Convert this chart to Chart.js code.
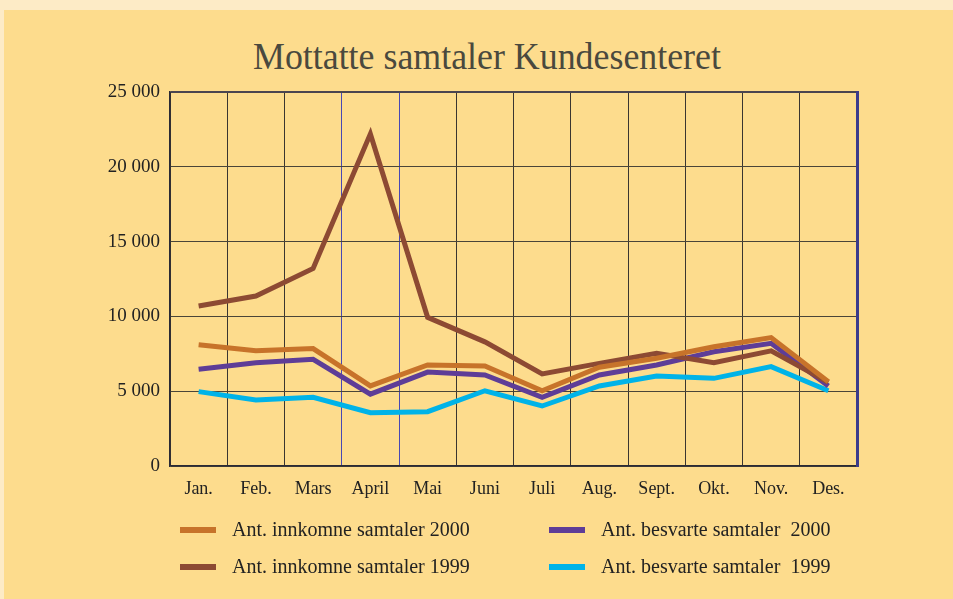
<!DOCTYPE html>
<html>
<head>
<meta charset="utf-8">
<script src="https://cdn.jsdelivr.net/npm/chart.js@4.4.0/dist/chart.umd.min.js"></script>
<style>
    body { margin: 0; background: #fdebc6; width: 953px; height: 599px; overflow: hidden; }
    #panel { position: absolute; left: 4px; top: 10px; width: 949px; height: 589px; background: #fddc8d; }
    #chartBox { position: absolute; left: 0; top: 0; width: 953px; height: 599px; }
    #title { position: absolute; left: 0; top: 34px; width: 973px; text-align: center;
             font-family: "Liberation Serif", serif; font-size: 38px; color: #4a493e; white-space: nowrap; }
    #title span { display: inline-block; transform-origin: center; }
    .leg { position: absolute; font-family: "Liberation Serif", serif; font-size: 20px; color: #222; white-space: pre; }
    .leg i { position: absolute; width: 36px; height: 6px; }
</style>
</head>
<body>
<div id="panel"></div>
<div id="title"><span>Mottatte samtaler Kundesenteret</span></div>
<div id="chartBox"><canvas id="lineChart" width="953" height="599"></canvas></div>
<div id="legend"></div>
<script>
// Data
const months = ['Jan.', 'Feb.', 'Mars', 'April', 'Mai', 'Juni', 'Juli', 'Aug.', 'Sept.', 'Okt.', 'Nov.', 'Des.'];
const innkomne2000 = [8100, 7700, 7850, 5350, 6750, 6680, 5030, 6600, 7200, 7970, 8580, 5630];
const innkomne1999 = [10700, 11360, 13200, 22200, 9940, 8300, 6150, 6860, 7530, 6900, 7700, 5600];
const besvarte2000 = [6460, 6900, 7130, 4800, 6280, 6080, 4590, 6080, 6750, 7640, 8200, 5350];
const besvarte1999 = [4970, 4410, 4590, 3560, 3630, 5030, 4010, 5350, 6020, 5860, 6640, 5030];
const yTicks = [0, 5000, 10000, 15000, 20000, 25000];

const seriesLabels = ['Ant. innkomne samtaler 2000', 'Ant. innkomne samtaler 1999',
                      'Ant. besvarte samtaler  2000', 'Ant. besvarte samtaler  1999'];
const seriesColors = ['#c7732a', '#8d4a33', '#5e3d97', '#00b3e8'];
const seriesData = [innkomne2000, innkomne1999, besvarte2000, besvarte1999];

// fit the title to the width it has in the picture
const titleSpan = document.querySelector('#title span');
titleSpan.style.transform = 'scaleX(' + (468 / titleSpan.offsetWidth) + ')';

// legend, two columns
const legendPos = [[180, 232, 530], [180, 232, 567], [549, 601, 530], [549, 601, 567]];
const legendBox = document.getElementById('legend');
seriesLabels.forEach((label, i) => {
    const [sx, tx, y] = legendPos[i];
    const mark = document.createElement('div');
    mark.className = 'leg';
    mark.style.left = sx + 'px';
    mark.style.top = (y - 3) + 'px';
    mark.innerHTML = '<i style="background:' + seriesColors[i] + '"></i>';
    legendBox.appendChild(mark);
    const text = document.createElement('div');
    text.className = 'leg';
    text.style.left = tx + 'px';
    text.style.top = (y - 12) + 'px';
    text.textContent = label;
    legendBox.appendChild(text);
});

function spaced(v) {
    return String(v).replace(/\B(?=(\d{3})+(?!\d))/g, ' ');
}

let ctx = document.getElementById('lineChart').getContext('2d');
let lineChart = new Chart(ctx, {
    type: 'line',
    data: {
        labels: months,
        datasets: seriesData.map((d, i) => ({
            label: seriesLabels[i],
            data: d,
            borderColor: seriesColors[i],
            backgroundColor: seriesColors[i],
            borderWidth: 5,
            pointRadius: 0,
            tension: 0,
            fill: false,
        })),
    },
    options: {
        responsive: false,
        animation: false,
        layout: {
            padding: { left: 0, top: 92, right: 96, bottom: 93 },
        },
        plugins: {
            legend: { display: false },
            tooltip: { enabled: false },
        },
        scales: {
            x: {
                offset: true,
                grid: {
                    offset: true,
                    // the two lines around April are blue in the original
                    color: (c) => (c.index === 3 || c.index === 4) ? '#4848b4' : '#3a3530',
                    lineWidth: 1,
                    drawTicks: false,
                },
                border: { color: '#2a2a35', width: 1.5 },
                ticks: {
                    color: '#222',
                    padding: 12,
                    font: { family: 'Liberation Serif', size: 18 },
                },
                afterFit: (s) => { s.height = 40; },
            },
            y: {
                min: 0,
                max: 25000,
                afterBuildTicks: (s) => { s.ticks = yTicks.map(v => ({ value: v })); },
                grid: {
                    color: (c) => c.index === 5 ? '#4a4550' : '#4a4538',
                    lineWidth: (c) => c.index === 5 ? 2 : 1,
                    drawTicks: false,
                },
                border: { color: '#2a2a35', width: 1.5 },
                ticks: {
                    color: '#222',
                    padding: 10,
                    font: { family: 'Liberation Serif', size: 19 },
                    callback: (v) => spaced(v),
                },
                afterFit: (s) => { s.width = 170; },
            },
            // right-hand frame line only
            yRight: {
                position: 'right',
                min: 0,
                max: 25000,
                grid: { drawOnChartArea: false, drawTicks: false },
                ticks: { display: false },
                border: { color: '#3c3c8c', width: 3 },
                afterFit: (s) => { s.width = 0; },
            },
        },
    },
});
</script>
</body>
</html>
